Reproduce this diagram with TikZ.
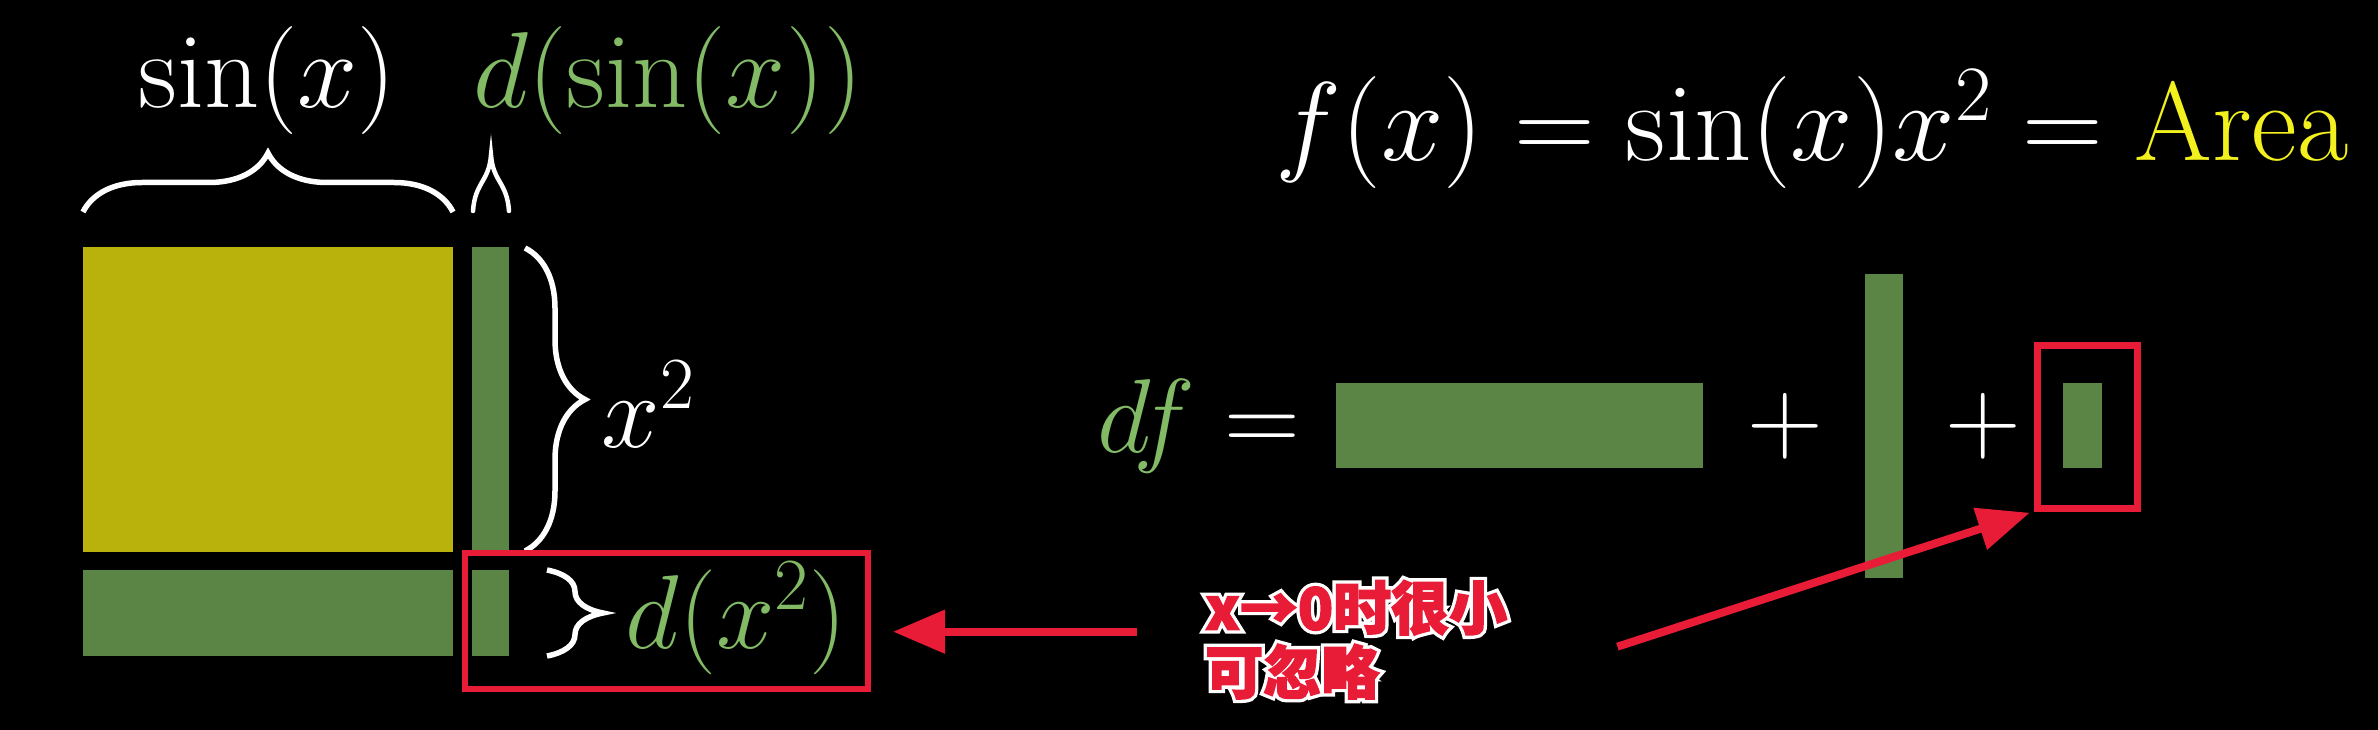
\RequirePackage{fix-cm}
\documentclass[tikz,border=0pt]{standalone}
\usepackage{fontspec}
\newfontfamily\cjk{Noto Sans CJK SC}[BoldFeatures={FakeBold=2.5}]
\newfontfamily\cjkhalo{Noto Sans CJK SC}[BoldFeatures={FakeBold=14}]
\usetikzlibrary{arrows.meta,decorations.pathreplacing}
\definecolor{sqyellow}{HTML}{B9B10C}
\definecolor{dgreen}{HTML}{5A8545}
\definecolor{lgreen}{HTML}{82BA66}
\definecolor{areayellow}{HTML}{F2F01E}
\definecolor{markred}{HTML}{E81C36}
\begin{document}
\begin{tikzpicture}[x=1pt,y=-1pt,
mathlbl/.style={text=white,font=\fontsize{108}{120}\selectfont,inner sep=0pt,anchor=base},
brc/.style={decorate,decoration={brace,amplitude=#1},white,line width=5.5pt},
redbox/.style={draw=markred,line width=6pt,inner sep=0pt},
notetxt/.style={font=\fontsize{58}{64}\selectfont\cjk\bfseries,align=left,inner sep=0pt,anchor=north west},
arr/.style={markred,line width=8pt,-{Triangle[length=52pt,width=42pt]}}]
\fill[black] (0,0) rectangle (2378,730);
\useasboundingbox (0,0) rectangle (2378,730);
% area pieces
\fill[sqyellow] (83,247) rectangle (453,552);
\fill[dgreen] (472,247) rectangle (509,552);
\fill[dgreen] (83,570) rectangle (453,656);
\fill[dgreen] (472,570) rectangle (509,656);
% braces
\draw[brc=59] (83,212) -- (453,212);
\draw[white,line width=4.5pt,line cap=round] (473,211) .. controls (475,182) and (489,182) .. (491,155)
  .. controls (493,182) and (507,182) .. (509,211);
\draw[brc=60] (525,248) -- (525,551);
\draw[brc=56] (547,570) -- (547,656);
\node[mathlbl] (sinx) at (267,108) {$\sin(x)$};
\node[mathlbl,text=lgreen] (dsinx) at (668,108) {$d(\sin(x))$};
\node[mathlbl,font=\fontsize{105}{120}\selectfont] (xsq) at (648,447) {$x^2$};
\node[mathlbl,text=lgreen,font=\fontsize{105}{120}\selectfont] (dxsq) at (736,648) {$d(x^2)$};
% right side
\node[mathlbl,font=\fontsize{112}{120}\selectfont] (fx) at (1812,161) {$f(x)=\sin(x)x^2={\color{areayellow}\mathrm{Area}}$};
\node[mathlbl,font=\fontsize{105}{120}\selectfont] (df) at (1199,452) {${\color{lgreen}df}=$};
\fill[dgreen] (1336,383) rectangle (1703,468);
\node[mathlbl,font=\fontsize{105}{120}\selectfont] (plusa) at (1785,452) {$+$};
\fill[dgreen] (1865,274) rectangle (1903,578);
\node[mathlbl,font=\fontsize{105}{120}\selectfont] (plusb) at (1983,452) {$+$};
\fill[dgreen] (2063,383) rectangle (2102,468);
% marks
\node[redbox,minimum width=403,minimum height=136] (boxA) at (666.5,621) {};
\node[redbox,line width=7pt,minimum width=100,minimum height=163] (boxB) at (2087,426.5) {};
\node[notetxt,font=\fontsize{58}{64}\selectfont\cjkhalo\bfseries,text=white] (halo) at (1205,580) {x→0时很小\\可忽略};
\node[notetxt,text=markred] (note) at (1205,580) {x→0时很小\\可忽略};
\draw[arr,shorten <=68pt,shorten >=22pt] ([yshift=8pt]note.west) -- ([yshift=8pt]note.west -| boxA.east);
\draw[arr,shorten >=4pt] ([shift={(110,7)}]note.east) -- (boxB.south west);
\end{tikzpicture}
\end{document}
